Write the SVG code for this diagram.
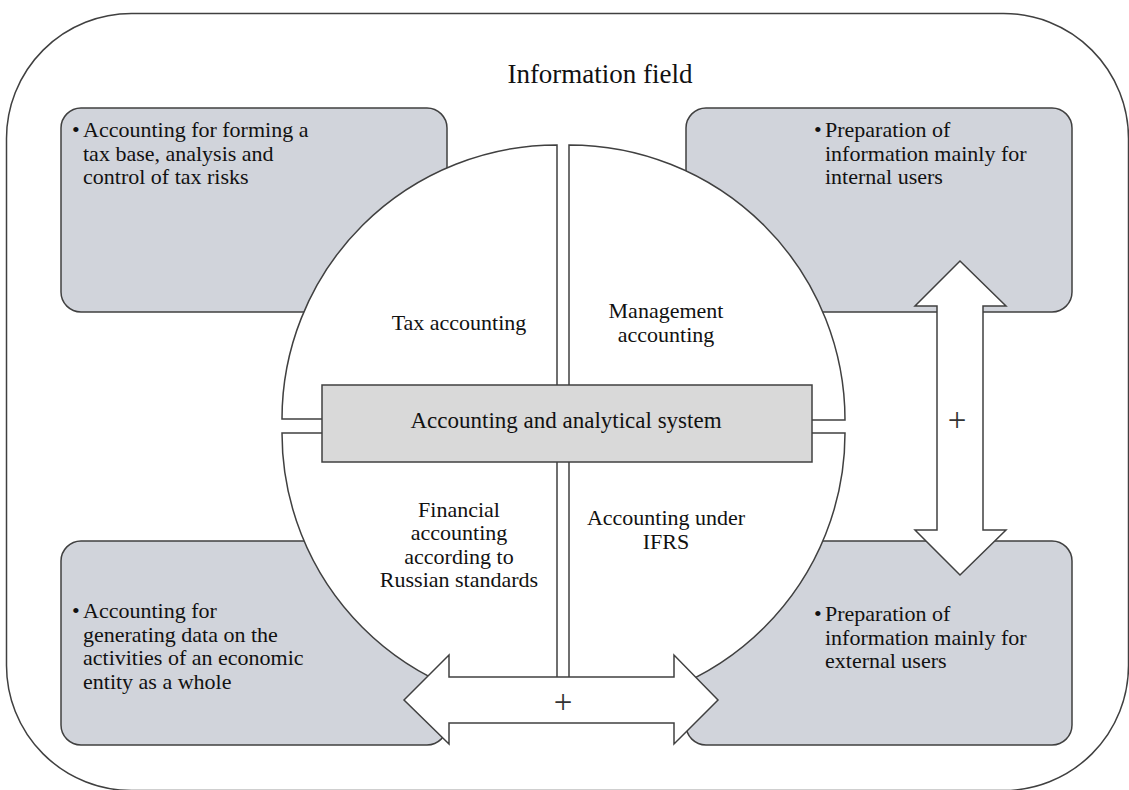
<svg xmlns="http://www.w3.org/2000/svg" width="1129" height="790" viewBox="0 0 1129 790">
<style>
text{font-family:"Liberation Serif","Times New Roman",serif;fill:#111;font-size:22px}
.box{fill:#d1d4db;stroke:#404040;stroke-width:1.5}
.q{fill:#fff;stroke:#404040;stroke-width:1.5}
.c{text-anchor:middle}
.arr{fill:#fff;stroke:#404040;stroke-width:1.5;stroke-linejoin:miter}
.plus{font-size:33px;fill:#333}
</style>
<rect id="field" x="6.5" y="13.5" width="1122" height="777" rx="125" ry="125" fill="#fff" stroke="#404040" stroke-width="1.5"/>
<text x="600" y="83" class="c" style="font-size:27px">Information field</text>

<g id="box-tl">
<rect class="box" x="61" y="108" width="386" height="204" rx="20"/>
<text x="72" y="137">•<tspan x="83">Accounting  for forming a</tspan><tspan x="83" dy="23.5">tax base, analysis and</tspan><tspan x="83" dy="23.5">control of tax risks</tspan></text>
</g>
<g id="box-tr">
<rect class="box" x="686" y="108" width="386" height="204" rx="20"/>
<text x="814" y="137">•<tspan x="825">Preparation of</tspan><tspan x="825" dy="23.5">information mainly for</tspan><tspan x="825" dy="23.5">internal users</tspan></text>
</g>
<g id="box-bl">
<rect class="box" x="61" y="541" width="386" height="204" rx="20"/>
<text x="72" y="618">•<tspan x="83">Accounting for</tspan><tspan x="83" dy="23.5">generating data on the</tspan><tspan x="83" dy="23.5">activities of an economic</tspan><tspan x="83" dy="23.5">entity as a whole</tspan></text>
</g>
<g id="box-br">
<rect class="box" x="686" y="541" width="386" height="204" rx="20"/>
<text x="814" y="621">•<tspan x="825">Preparation of</tspan><tspan x="825" dy="23.5">information mainly for</tspan><tspan x="825" dy="23.5">external users</tspan></text>
</g>

<g id="q-tax">
<path class="q" d="M557,419 L282,419 A275,274 0 0 1 557,145 Z"/>
<text x="459" y="330" class="c">Tax  accounting</text>
</g>
<g id="q-mgmt">
<path class="q" d="M569,420 L569,145 A276,275 0 0 1 845,420 Z"/>
<text x="666" y="318" class="c">Management<tspan x="666" dy="24">accounting</tspan></text>
</g>
<g id="q-fin">
<path class="q" d="M557,433 L282,433 A275,275 0 0 0 557,708 Z"/>
<text x="459" y="517" class="c">Financial<tspan x="459" dy="23.3">accounting</tspan><tspan x="459" dy="23.3">according to</tspan><tspan x="459" dy="23.3">Russian  standards</tspan></text>
</g>
<g id="q-ifrs">
<path class="q" d="M569,433 L845,433 A276,275 0 0 1 569,708 Z"/>
<text x="666" y="525" class="c">Accounting  under<tspan x="666" dy="23.5">IFRS</tspan></text>
</g>

<g id="center">
<rect x="322" y="385" width="490" height="77" fill="#d9d9d9" stroke="#404040" stroke-width="1.5"/>
<text x="566" y="428" class="c" style="font-size:23px">Accounting and analytical system</text>
</g>

<g id="connectors">
<polygon class="arr" points="960,261 1006,306 983,306 983,530 1006,530 960,575 915,530 937,530 937,306 915,306"/>
<text x="957" y="431" class="c plus">+</text>
<polygon class="arr" points="404,700 449,655 449,677 674,677 674,655 718,700 674,744 674,723 449,723 449,744"/>
<text x="563" y="713" class="c plus">+</text>
</g>
</svg>
